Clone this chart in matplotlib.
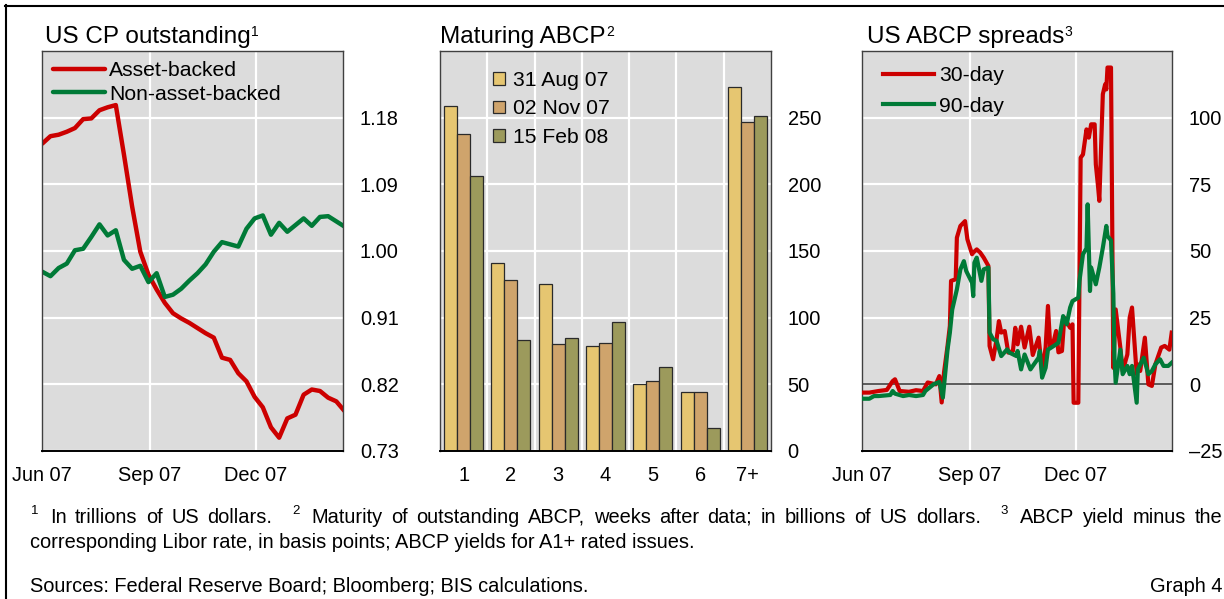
import matplotlib
matplotlib.use('Agg')
import matplotlib.pyplot as plt
import matplotlib.dates as mdates
from matplotlib.lines import Line2D
import numpy as np
import pandas as pd

plt.rcParams['font.family'] = ['Liberation Sans', 'DejaVu Sans']

# ---------------- data ----------------
# Panel 1: US CP outstanding (trillions USD), weekly
cp_start = '2007-06-01'
asset_backed = [1.145, 1.155, 1.157, 1.161, 1.166, 1.178, 1.179, 1.190, 1.194, 1.197,
                1.130, 1.060, 0.999, 0.968, 0.948, 0.930, 0.916, 0.909, 0.903, 0.896,
                0.889, 0.883, 0.856, 0.853, 0.835, 0.824, 0.803, 0.789, 0.762, 0.748,
                0.774, 0.779, 0.806, 0.813, 0.811, 0.802, 0.797, 0.784]
non_asset_backed = [0.972, 0.966, 0.977, 0.983, 1.001, 1.003, 1.019, 1.036, 1.021, 1.028,
                    0.988, 0.976, 0.980, 0.958, 0.970, 0.938, 0.941, 0.949, 0.960, 0.970,
                    0.982, 0.999, 1.012, 1.009, 1.006, 1.030, 1.044, 1.048, 1.022, 1.038,
                    1.026, 1.035, 1.044, 1.034, 1.046, 1.047, 1.040, 1.033]

# Panel 2: Maturing ABCP (billions USD)
maturity_weeks = ['1', '2', '3', '4', '5', '6', '7+']
mat_labels = ['31 Aug 07', '02 Nov 07', '15 Feb 08']
mat_aug07 = [259, 141, 125, 79, 50.5, 44, 273]
mat_nov07 = [238, 128.5, 80.5, 81, 52.5, 44.5, 247]
mat_feb08 = [206, 83, 85, 97, 63, 17, 251]

# Panel 3: US ABCP spreads (basis points)
d30 = ['2007-06-01', '2007-06-07', '2007-06-15', '2007-06-22', '2007-06-27', '2007-06-29',
       '2007-07-03', '2007-07-11', '2007-07-17', '2007-07-23', '2007-07-27', '2007-08-03',
       '2007-08-06', '2007-08-08', '2007-08-10', '2007-08-13', '2007-08-15', '2007-08-16',
       '2007-08-20', '2007-08-21', '2007-08-24', '2007-08-28', '2007-08-30', '2007-09-03',
       '2007-09-04', '2007-09-07', '2007-09-10', '2007-09-13', '2007-09-17', '2007-09-18',
       '2007-09-21', '2007-09-24', '2007-09-26', '2007-09-28', '2007-10-01', '2007-10-04',
       '2007-10-08', '2007-10-10', '2007-10-12', '2007-10-15', '2007-10-18', '2007-10-22',
       '2007-10-25', '2007-10-30', '2007-11-02', '2007-11-05', '2007-11-07', '2007-11-09',
       '2007-11-12', '2007-11-14', '2007-11-16', '2007-11-19', '2007-11-21', '2007-11-26',
       '2007-11-28', '2007-11-29', '2007-12-03', '2007-12-05', '2007-12-07', '2007-12-10',
       '2007-12-12', '2007-12-14', '2007-12-17', '2007-12-18', '2007-12-20', '2007-12-21',
       '2007-12-24', '2007-12-26', '2007-12-27', '2007-12-28', '2007-12-31', '2008-01-02',
       '2008-01-04', '2008-01-08', '2008-01-10', '2008-01-14', '2008-01-16', '2008-01-18',
       '2008-01-22', '2008-01-23', '2008-01-25', '2008-01-29', '2008-02-01', '2008-02-04',
       '2008-02-07', '2008-02-12', '2008-02-15', '2008-02-19', '2008-02-21']
s30 = [-3.1, -3.1, -2.5, -2.1, 1.2, 1.9,
       -2.5, -2.8, -2.2, -2.5, 0.7, 0.0,
       3.1, -6.8, 4.5, 14.4, 21.9, 38.8,
       39.4, 55.0, 59.4, 61.2, 54.4, 48.8,
       49.4, 50.6, 49.4, 47.5, 44.4, 14.4,
       9.4, 16.9, 23.7, 19.4, 20.0, 11.9,
       12.5, 21.2, 15.0, 21.6, 13.8, 21.6,
       11.0, 17.5, 5.0, 13.8, 29.4, 13.8,
       16.3, 20.0, 12.0, 12.5, 25.0, 21.2,
       22.5, -6.9, -6.9, 85.0, 86.2, 95.6,
       92.5, 97.5, 97.5, 82.5, 73.8, 68.8,
       108.8, 112.5, 110.6, 118.8, 118.8, 6.2,
       28.1, 13.8, 5.0, 11.2, 25.0, 28.8,
       3.8, 7.5, 5.0, 17.5, 0.0, -0.6,
       7.5, 13.8, 14.4, 13.0, 19.4]
d90 = ['2007-06-01', '2007-06-07', '2007-06-11', '2007-06-15', '2007-06-25', '2007-06-27',
       '2007-06-29', '2007-07-06', '2007-07-11', '2007-07-17', '2007-07-23', '2007-07-25',
       '2007-08-01', '2007-08-06', '2007-08-09', '2007-08-13', '2007-08-15', '2007-08-17',
       '2007-08-21', '2007-08-24', '2007-08-27', '2007-08-29', '2007-09-03', '2007-09-04',
       '2007-09-05', '2007-09-07', '2007-09-11', '2007-09-13', '2007-09-17', '2007-09-18',
       '2007-09-21', '2007-09-24', '2007-09-28', '2007-10-03', '2007-10-05', '2007-10-11',
       '2007-10-12', '2007-10-15', '2007-10-18', '2007-10-23', '2007-10-26', '2007-10-30',
       '2007-10-31', '2007-11-02', '2007-11-05', '2007-11-07', '2007-11-12', '2007-11-16',
       '2007-11-20', '2007-11-23', '2007-11-26', '2007-11-28', '2007-12-03', '2007-12-04',
       '2007-12-07', '2007-12-10', '2007-12-11', '2007-12-13', '2007-12-14', '2007-12-18',
       '2007-12-21', '2007-12-24', '2007-12-27', '2007-12-28', '2007-12-31', '2008-01-02',
       '2008-01-03', '2008-01-04', '2008-01-08', '2008-01-10', '2008-01-14', '2008-01-16',
       '2008-01-18', '2008-01-22', '2008-01-23', '2008-01-28', '2008-02-01', '2008-02-04',
       '2008-02-07', '2008-02-11', '2008-02-14', '2008-02-18', '2008-02-21']
s90 = [-5.4, -5.4, -4.4, -4.4, -4.0, -2.5,
       -3.5, -4.4, -4.0, -4.4, -4.0, -2.5,
       0.0, 0.9, -5.0, 13.0, 19.4, 28.0,
       35.6, 43.1, 46.2, 42.5, 38.1, 33.1,
       45.6, 47.5, 38.8, 43.1, 43.8, 19.4,
       16.9, 16.3, 10.6, 13.1, 11.9, 10.6,
       12.5, 5.6, 11.2, 5.6, 7.5, 10.0,
       12.5, 2.5, 6.2, 13.0, 14.4, 15.6,
       25.6, 22.5, 28.8, 31.2, 32.5, 38.8,
       48.8, 51.0, 67.5, 35.0, 43.8, 37.5,
       43.8, 51.2, 59.4, 55.6, 54.0, 34.0,
       9.4, 0.6, 13.0, 3.8, 6.9, 3.8,
       6.9, -6.9, 5.6, 10.0, 3.8, 5.0,
       7.5, 9.4, 6.9, 6.9, 8.1]

date_ticks = ['2007-06-01', '2007-09-01', '2007-12-01']
date_ticklabels = ['Jun 07', 'Sep 07', 'Dec 07']

# ---------------- style ----------------
W, H, DPI = 1224, 599, 100
BG = '#DCDCDC'
RED = '#CC0000'
GREEN = '#007A37'
BAR_COLORS = ['#E6C671', '#CFA46C', '#9C9A5C']
TICK_FS = 14.4
LEG_FS = 15.2
TITLE_FS = 17.5
FOOT_FS = 14.4
TITLE_SUP_FS = 10
FOOT_SUP_FS = 9.5

fig = plt.figure(figsize=(W / DPI, H / DPI), dpi=DPI)
renderer = fig.canvas.get_renderer()


def fx(x):
    return x / W


def fy(y):
    return 1 - y / H


def ax_at(x0, x1, y0=51, y1=451):
    return fig.add_axes([fx(x0), fy(y1), (x1 - x0) / W, (y1 - y0) / H])


def style_axes(ax):
    ax.set_facecolor(BG)
    ax.grid(True, color='white', lw=1.6)
    ax.set_axisbelow(True)
    for s in ['left', 'right', 'top']:
        ax.spines[s].set_color('#404040')
        ax.spines[s].set_linewidth(1.0)
    ax.spines['bottom'].set_color('black')
    ax.spines['bottom'].set_linewidth(1.4)
    ax.tick_params(axis='both', length=0, labelsize=TICK_FS)
    ax.tick_params(axis='y', pad=12)
    ax.tick_params(axis='x', pad=11)
    ax.yaxis.tick_right()


def title(x, s, sup):
    t = fig.text(fx(x), fy(42.5), s, fontsize=TITLE_FS, ha='left', va='baseline')
    bb = t.get_window_extent(renderer)
    fig.text(fx(bb.x1 + 0.5), fy(35.5), sup, fontsize=TITLE_SUP_FS, ha='left', va='baseline')


# ---------------- Panel 1 ----------------
ax1 = ax_at(42.3, 343.3)
style_axes(ax1)
cp_dates = pd.date_range(cp_start, periods=len(asset_backed), freq='7D')
ax1.plot(cp_dates, asset_backed, color=RED, lw=3.2, label='Asset-backed', solid_capstyle='round')
ax1.plot(cp_dates, non_asset_backed, color=GREEN, lw=3.2, label='Non-asset-backed', solid_capstyle='round')
ax1.set_xlim(pd.Timestamp('2007-06-01'), pd.Timestamp('2008-02-14'))
ax1.set_ylim(0.73, 1.27)
ax1.set_yticks([0.73, 0.82, 0.91, 1.00, 1.09, 1.18])
ax1.set_yticklabels(['0.73', '0.82', '0.91', '1.00', '1.09', '1.18'])
ax1.set_xticks(pd.to_datetime(date_ticks))
ax1.set_xticklabels(date_ticklabels)
ax1.legend(loc='upper left', bbox_to_anchor=(0.035, 0.975), frameon=False, fontsize=LEG_FS,
           handlelength=2.45, handletextpad=0.2, labelspacing=0.22, borderpad=0.0,
           borderaxespad=0.0)
title(45, 'US CP outstanding', '1')

# ---------------- Panel 2 ----------------
ax2 = ax_at(440, 771)
style_axes(ax2)
xpos = np.arange(len(maturity_weeks))
bw = 0.275
for i, (vals, lab) in enumerate(zip([mat_aug07, mat_nov07, mat_feb08], mat_labels)):
    ax2.bar(xpos + (i - 1) * bw, vals, width=bw, color=BAR_COLORS[i], edgecolor='#2a2a2a',
            linewidth=0.9, label=lab, zorder=2)
ax2.set_xlim(-0.5, len(maturity_weeks) - 0.5)
ax2.set_ylim(0, 300)
ax2.set_yticks([0, 50, 100, 150, 200, 250])
ax2.set_xticks(xpos)
ax2.set_xticklabels(maturity_weeks)
ax2.set_xticks(xpos[:-1] + 0.5, minor=True)
ax2.xaxis.grid(False, which='major')
ax2.xaxis.grid(True, which='minor', color='white', lw=1.6)
ax2.tick_params(axis='x', which='minor', length=0)
ax2.legend(loc='upper left', bbox_to_anchor=(0.16, 0.95), frameon=False, fontsize=LEG_FS,
           handlelength=0.55, handleheight=0.55, handletextpad=0.4, labelspacing=0.45,
           borderpad=0.0, borderaxespad=0.0)
title(440, 'Maturing ABCP', '2')

# ---------------- Panel 3 ----------------
ax3 = ax_at(862.3, 1172.3)
style_axes(ax3)
ax3.axhline(0, color='#5a5a5a', lw=1.4, zorder=1.5)
ax3.plot(pd.to_datetime(d30), s30, color=RED, lw=3.0, label='30-day', zorder=3)
ax3.plot(pd.to_datetime(d90), s90, color=GREEN, lw=3.0, label='90-day', zorder=4)
ax3.set_xlim(pd.Timestamp('2007-06-01'), pd.Timestamp('2008-02-21 12:00'))
ax3.set_ylim(-25, 125)
ax3.set_yticks([-25, 0, 25, 50, 75, 100])
ax3.set_yticklabels(['\u201325', '0', '25', '50', '75', '100'])
ax3.set_xticks(pd.to_datetime(date_ticks))
ax3.set_xticklabels(date_ticklabels)
ax3.legend(loc='upper left', bbox_to_anchor=(0.068, 0.962), frameon=False, fontsize=LEG_FS,
           handlelength=2.4, handletextpad=0.25, labelspacing=0.55, borderpad=0.0,
           borderaxespad=0.0)
title(866.7, 'US ABCP spreads', '3')

# ---------------- frame lines ----------------
fig.add_artist(Line2D([fx(5), 1], [fy(5.7), fy(5.7)], transform=fig.transFigure,
                      color='black', lw=1.5))
fig.add_artist(Line2D([fx(5.7), fx(5.7)], [fy(5), 0], transform=fig.transFigure,
                      color='black', lw=1.5))

# ---------------- footnotes ----------------
line1 = [('1', True), ('In', False), ('trillions', False), ('of', False), ('US', False),
         ('dollars.', False), ('2', True), ('Maturity', False), ('of', False),
         ('outstanding', False), ('ABCP,', False), ('weeks', False), ('after', False),
         ('data;', False), ('in', False), ('billions', False), ('of', False), ('US', False),
         ('dollars.', False), ('3', True), ('ABCP', False), ('yield', False),
         ('minus', False), ('the', False)]
x_start, x_end, base1 = 30.5, 1222, 522.7
items = []
for s, sup in line1:
    t = fig.text(0, 0, s, fontsize=FOOT_SUP_FS if sup else FOOT_FS, ha='left', va='baseline')
    items.append((t, sup, t.get_window_extent(renderer).width))
weights = []
for i in range(1, len(items)):
    if items[i][1]:
        weights.append(2.4)
    elif items[i - 1][1]:
        weights.append(1.4)
    else:
        weights.append(1.0)
unit = (x_end - x_start - sum(w for _, _, w in items)) / sum(weights)
x = x_start
for i, (t, sup, w) in enumerate(items):
    t.set_position((fx(x), fy(base1 - (9 if sup else 0))))
    x += w
    if i < len(weights):
        x += unit * weights[i]

fig.text(fx(30), fy(547.7), 'corresponding Libor rate, in basis points; ABCP yields for A1+ rated issues.',
         fontsize=FOOT_FS, ha='left', va='baseline')
fig.text(fx(30), fy(592), 'Sources: Federal Reserve Board; Bloomberg; BIS calculations.',
         fontsize=FOOT_FS, ha='left', va='baseline')
fig.text(fx(1222), fy(592), 'Graph 4', fontsize=FOOT_FS, ha='right', va='baseline')

fig.savefig('out.png', dpi=DPI)
